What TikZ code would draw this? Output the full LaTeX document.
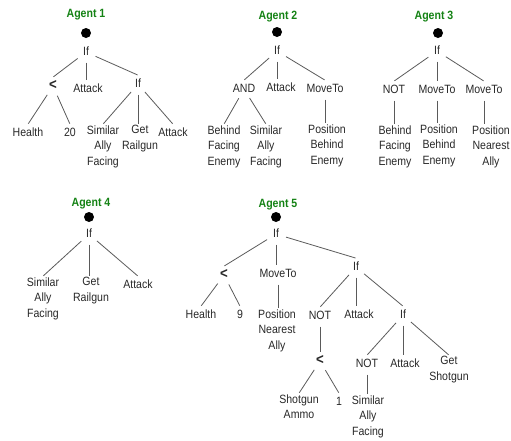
\documentclass[tikz,border=0pt]{standalone}
\usepackage{fontspec}
\setmainfont{Liberation Sans}[FakeStretch=0.88]
\definecolor{agentgreen}{RGB}{20,130,20}
\definecolor{txtgray}{RGB}{40,40,40}
\definecolor{linegray}{RGB}{90,90,90}
\tikzset{
  lbl/.style={font=\fontsize{12}{15.5}\selectfont, text=txtgray, align=center, inner sep=1pt, anchor=north, execute at begin node=\strut},
  agent/.style={font=\fontsize{12}{15}\selectfont\bfseries, text=agentgreen, inner sep=1pt, anchor=base},
  rootdot/.style={circle, fill=black, minimum size=10pt, inner sep=0pt},
  edge/.style={draw=linegray, line width=0.8pt, shorten <=10.5pt, shorten >=0.5pt}
}
\newcommand\dedge[2]{\draw[edge] (#1.center) -- (#2.north);}
\newcommand\vedge[2]{\draw[edge] (#1.center) -- (#1.center |- #2.north);}
\newcommand\Nd[4]{\node[lbl] (#1) at (#2,#3-7.85) {#4};}
\newcommand\lessop{{\fontsize{15}{15.5}\selectfont\bfseries <}}
\begin{document}
\begin{tikzpicture}[x=1pt,y=-1pt]
\useasboundingbox (0,0) rectangle (511,440);
% ---------------- Tree 1
\node[agent] (t1a) at (86,17) {Agent 1};
\node[rootdot] (t1d) at (86,33) {};
\Nd{t1if}{86}{51}{If}
\Nd{t1lt}{53}{85}{\lessop}
\Nd{t1at}{88}{88}{Attack}
\Nd{t1if2}{138}{83}{If}
\Nd{t1h}{28}{132}{Health}
\Nd{t1n}{70}{132}{20}
\Nd{t1s}{103}{132}{Similar\\Ally\\Facing}
\Nd{t1g}{140}{132}{Get\\Railgun}
\Nd{t1at2}{173}{132}{Attack}
\dedge{t1if}{t1lt}
\vedge{t1if}{t1at}
\dedge{t1if}{t1if2}
\dedge{t1lt}{t1h}
\dedge{t1lt}{t1n}
\dedge{t1if2}{t1s}
\vedge{t1if2}{t1g}
\dedge{t1if2}{t1at2}
% ---------------- Tree 2
\node[agent] (t2a) at (278,19) {Agent 2};
\node[rootdot] (t2d) at (277,32) {};
\Nd{t2if}{277}{50}{If}
\Nd{t2and}{244}{88}{AND}
\Nd{t2at}{281}{87}{Attack}
\Nd{t2mv}{325}{88}{MoveTo}
\Nd{t2b}{224}{132}{Behind\\Facing\\Enemy}
\Nd{t2s}{266}{132}{Similar\\Ally\\Facing}
\Nd{t2p}{327}{131}{Position\\Behind\\Enemy}
\dedge{t2if}{t2and}
\vedge{t2if}{t2at}
\dedge{t2if}{t2mv}
\dedge{t2and}{t2b}
\dedge{t2and}{t2s}
\vedge{t2mv}{t2p}
% ---------------- Tree 3
\node[agent] (t3a) at (434,19) {Agent 3};
\node[rootdot] (t3d) at (438,33) {};
\Nd{t3if}{437}{50}{If}
\Nd{t3not}{394}{89}{NOT}
\Nd{t3mv}{437}{89}{MoveTo}
\Nd{t3mv2}{484}{89}{MoveTo}
\Nd{t3b}{395}{132}{Behind\\Facing\\Enemy}
\Nd{t3p}{439}{131}{Position\\Behind\\Enemy}
\Nd{t3q}{491}{132}{Position\\Nearest\\Ally}
\dedge{t3if}{t3not}
\vedge{t3if}{t3mv}
\dedge{t3if}{t3mv2}
\vedge{t3not}{t3b}
\vedge{t3mv}{t3p}
\vedge{t3mv2}{t3q}
% ---------------- Tree 4
\node[agent] (t4a) at (91,206) {Agent 4};
\node[rootdot] (t4d) at (89,217) {};
\Nd{t4if}{89}{233}{If}
\Nd{t4s}{43}{284}{Similar\\Ally\\Facing}
\Nd{t4g}{91}{284}{Get\\Railgun}
\Nd{t4at}{138}{284}{Attack}
\dedge{t4if}{t4s}
\vedge{t4if}{t4g}
\dedge{t4if}{t4at}
% ---------------- Tree 5
\node[agent] (t5a) at (278,207) {Agent 5};
\node[rootdot] (t5d) at (276,217) {};
\Nd{t5if}{276}{233}{If}
\Nd{t5lt}{224}{274}{\lessop}
\Nd{t5mv}{278}{273}{MoveTo}
\Nd{t5if2}{356}{266}{If}
\Nd{t5h}{201}{314}{Health}
\Nd{t5n}{240}{314}{9}
\Nd{t5p}{277}{316}{Position\\Nearest\\Ally}
\Nd{t5not}{320}{315}{NOT}
\Nd{t5at}{359}{314}{Attack}
\Nd{t5if3}{403}{314}{If}
\Nd{t5lt2}{320}{360}{\lessop}
\Nd{t5not2}{367}{363}{NOT}
\Nd{t5at2}{405}{363}{Attack}
\Nd{t5g}{449}{363}{Get\\Shotgun}
\Nd{t5sa}{299}{401}{Shotgun\\Ammo}
\Nd{t5one}{339}{401}{1}
\Nd{t5s}{368}{402}{Similar\\Ally\\Facing}
\dedge{t5if}{t5lt}
\vedge{t5if}{t5mv}
\dedge{t5if}{t5if2}
\dedge{t5lt}{t5h}
\dedge{t5lt}{t5n}
\vedge{t5mv}{t5p}
\dedge{t5if2}{t5not}
\vedge{t5if2}{t5at}
\dedge{t5if2}{t5if3}
\vedge{t5not}{t5lt2}
\dedge{t5lt2}{t5sa}
\dedge{t5lt2}{t5one}
\dedge{t5if3}{t5not2}
\vedge{t5if3}{t5at2}
\dedge{t5if3}{t5g}
\vedge{t5not2}{t5s}
\end{tikzpicture}
\end{document}
